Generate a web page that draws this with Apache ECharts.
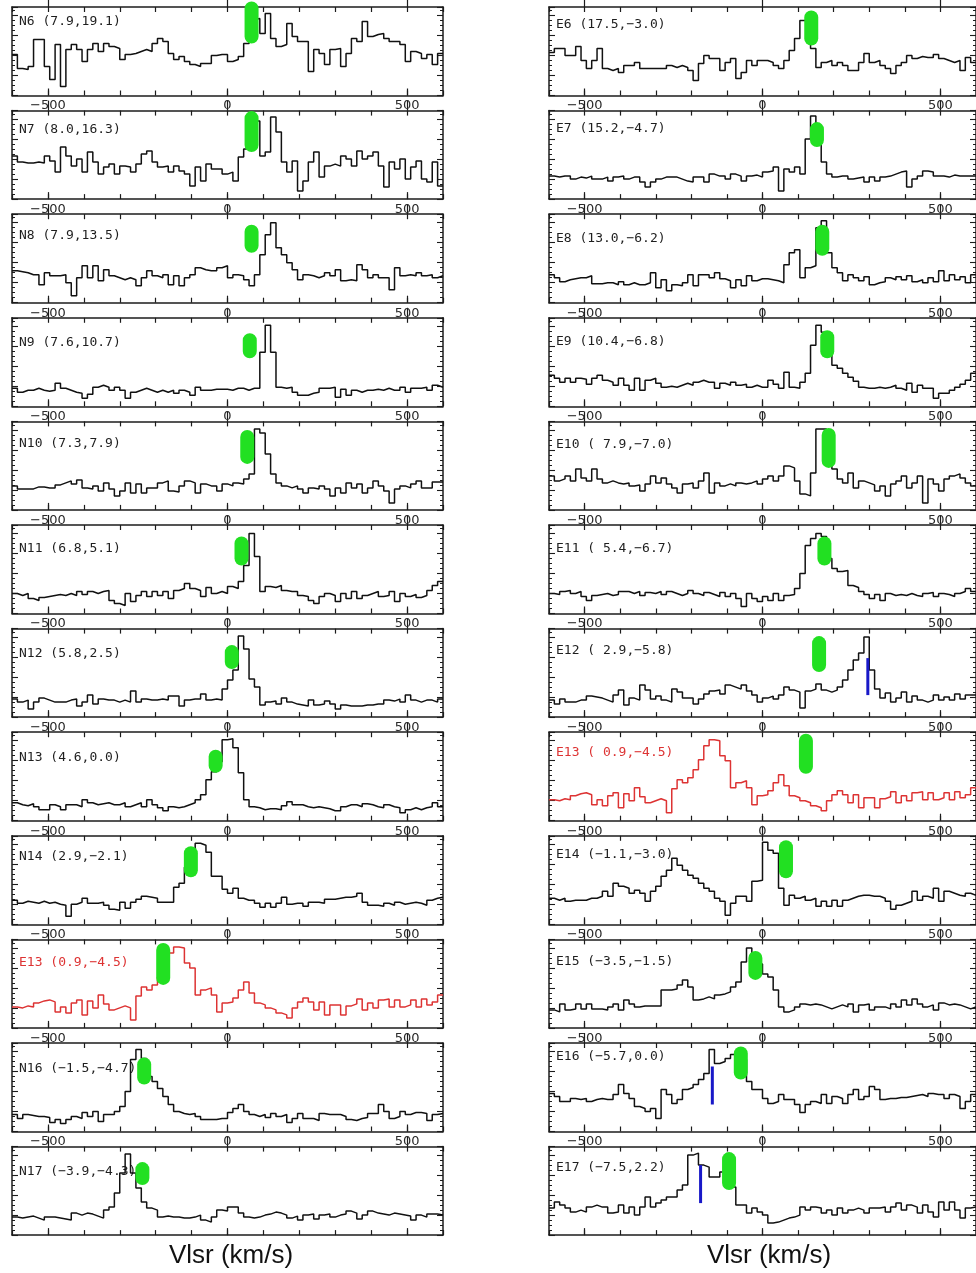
<!DOCTYPE html>
<html>
<head>
<meta charset="utf-8">
<title>CO spectra – N and E strips</title>
<script src="https://cdn.jsdelivr.net/npm/echarts@6/dist/echarts.min.js"></script>
<style>
  html, body { margin: 0; padding: 0; background: #fff; }
  #chart { width: 976px; height: 1273px; }
</style>
</head>
<body>
<div id="chart"></div>
<script>
// Velocity channels: 80 channels of 15 km/s from -600 to +600 km/s
const CHANNEL_START = -600;
const CHANNEL_WIDTH = 15;
const MAJOR_TICKS = [-500, 0, 500];

// Spectra (relative intensity, one value per channel)
const N6  = [41,27,26,29,56,56,29,16,51,9, 46,51,46,34,46,52,44,52,49,47, 36,41,42,44,46,44,52,57,54,42, 36,39,34,31,29,32,32,40,41,41, 34,36,39,52,76,77,62,82,57,49, 51,72,59,54,54,24,46,42,31,46, 47,29,42,57,54,74,59,61,62,57, 54,54,51,34,44,42,37,41,31,42];
const N7  = [43,37,36,36,37,36,43,38,27,52, 43,33,40,27,47,37,25,32,35,25, 33,32,27,35,45,48,37,32,33,27, 33,28,25,13,32,18,35,30,30,25, 27,18,42,50,60,78,43,47,82,67, 37,27,38,8,18,37,47,22,33,35, 33,43,40,33,48,40,43,47,33,12, 37,30,40,20,32,38,20,17,37,13];
const N8  = [32,31,30,28,28,18,30,27,27,28, 20,7,25,37,25,37,22,33,27,25, 23,25,23,17,25,32,27,25,28,18, 27,17,25,28,35,33,32,32,35,37, 25,28,27,23,17,28,48,68,80,55, 48,40,33,23,28,27,25,27,30,27, 33,22,23,22,38,33,25,28,25,25, 13,35,27,28,27,30,27,28,25,27];
const N9  = [18,14,16,16,18,16,15,16,23,18, 16,14,13,8,12,19,21,19,16,19, 16,8,14,16,18,16,14,16,14,16, 13,16,14,11,19,16,16,17,17,17, 16,18,18,16,18,18,54,81,54,19, 18,19,14,11,11,13,14,18,18,19, 9,17,11,16,14,16,16,17,16,18, 16,16,19,14,18,18,19,16,21,19];
const N10 = [24,21,21,21,23,23,22,22,25,27, 29,26,30,22,21,24,19,27,21,14, 19,27,17,26,17,22,22,27,29,19, 18,24,29,27,17,26,24,24,19,26, 24,27,26,31,36,81,77,56,36,27, 24,22,24,21,17,22,21,24,21,14, 22,17,27,22,26,17,22,29,24,19, 7,21,24,22,26,29,22,22,28,28];
const N11 = [20,18,20,15,13,16,17,18,19,18, 20,18,22,19,22,20,22,23,13,10, 8,20,12,18,22,17,22,18,22,15, 23,25,30,25,23,17,26,20,22,20, 27,25,32,48,80,57,22,27,26,28, 23,22,22,18,17,13,10,17,20,18, 12,20,15,22,15,18,20,22,17,18, 22,12,20,17,19,16,18,23,28,32];
const N12 = [18,15,17,8,15,19,17,15,15,15, 17,18,11,15,22,13,18,17,17,15, 17,15,26,15,18,17,17,18,17,21, 21,11,17,18,18,23,17,18,17,28, 37,47,81,68,38,30,12,15,16,13, 19,15,13,12,11,17,12,13,16,13, 8,12,11,11,11,12,12,13,13,17, 16,18,15,22,17,15,17,17,15,18];
const N13 = [18,16,15,17,14,11,11,16,14,11, 16,16,14,21,18,16,17,18,16,16, 18,14,16,18,14,21,16,13,10,14, 13,14,16,18,21,26,41,49,59,81, 82,73,48,21,14,13,11,12,12,11, 15,19,16,16,14,13,14,13,12,10, 10,14,16,16,14,17,16,14,13,16, 14,13,8,11,13,11,13,14,18,14];
const N14 = [24,21,23,22,21,23,21,22,20,19, 8,20,22,26,21,21,22,19,15,14, 22,16,22,25,28,27,26,22,22,22, 37,41,57,71,81,79,72,48,48,35, 31,36,26,24,24,21,17,21,17,21, 27,20,21,21,18,22,22,21,25,25, 26,27,27,28,31,22,19,19,18,21, 19,22,20,21,22,21,19,24,26,27];
const E13 = [21,20,22,21,25,27,28,26,16,21, 15,25,28,13,27,20,33,24,18,20, 22,20,8,32,41,38,43,51,61,75, 81,80,65,60,33,38,40,33,16,25, 26,30,38,46,35,25,23,20,18,15, 13,10,20,26,30,26,18,26,13,23, 23,13,22,24,29,18,25,20,28,29, 21,28,21,23,28,21,29,23,26,33];
const N16 = [17,13,17,16,15,15,14,9,12,8, 12,15,13,19,15,20,10,17,17,20, 25,40,72,82,73,55,50,43,35,27, 20,18,17,18,15,12,12,12,13,13, 19,23,27,20,17,15,17,14,18,15, 17,9,13,18,13,13,11,18,17,17, 17,15,12,11,13,14,18,18,27,20, 13,15,20,17,19,19,18,11,17,18];
const N17 = [18,17,18,19,17,15,18,18,17,16, 15,22,20,22,21,19,17,25,28,42, 62,81,62,47,33,27,25,18,19,18, 18,17,17,18,20,15,13,18,25,24, 28,28,22,18,17,18,20,21,23,22, 20,17,19,15,20,21,16,20,21,18, 20,21,24,22,16,20,24,22,21,20, 22,21,20,19,15,20,18,21,21,20];

const E6  = [43,47,47,40,40,49,35,27,35,47, 27,25,27,23,30,30,33,27,27,27, 27,27,30,28,30,28,25,15,32,40, 37,37,25,33,37,17,23,35,30,35, 35,33,30,27,35,45,57,75,75,47, 28,33,35,30,33,30,25,25,33,42, 33,35,30,27,22,30,33,40,37,39, 38,38,41,37,35,33,35,25,38,33];
const E7  = [23,22,23,23,20,22,21,23,20,20, 22,18,22,23,20,22,22,17,12,17, 20,22,22,22,20,18,17,22,22,17, 25,23,23,20,25,23,18,23,24,22, 27,28,32,8,30,27,32,25,60,83, 70,37,25,22,23,23,20,21,22,17, 22,18,22,23,25,27,28,12,20,23, 28,27,23,23,22,24,23,23,23,23];
const E8  = [28,25,21,23,24,25,25,27,19,19, 20,20,18,21,18,20,18,18,20,30, 15,23,12,18,17,20,28,17,28,28, 25,30,24,22,15,23,17,27,22,24, 24,23,22,20,38,50,53,25,35,37, 75,82,50,35,30,22,28,25,22,26, 18,20,21,25,23,26,23,27,21,23, 20,25,21,32,22,28,23,26,20,28];
const E9  = [31,28,24,28,24,28,27,22,28,31, 26,24,21,28,21,16,28,16,26,28, 23,19,20,19,21,23,21,24,26,24, 24,18,23,21,24,21,22,19,21,19, 19,26,22,18,34,19,18,24,33,61, 81,74,54,41,38,33,29,25,19,18, 18,19,18,19,21,18,16,23,14,21, 18,18,8,13,13,16,19,22,26,33];
const E10 = [34,29,31,34,29,41,32,29,41,31, 27,29,27,26,27,24,25,19,26,34, 27,32,26,22,17,26,27,22,29,37, 17,27,24,26,24,27,26,27,29,26, 31,34,29,34,44,42,29,16,14,37, 81,81,54,41,31,27,37,22,29,27, 25,19,24,14,26,29,34,22,27,34, 7,31,26,19,31,34,36,32,27,24];
const E11 = [20,19,22,23,20,22,17,13,18,19, 20,18,19,22,22,20,22,18,21,20, 22,19,22,20,18,20,23,20,18,21, 19,17,21,17,20,15,7,20,15,12, 17,13,20,13,18,19,25,40,68,75, 80,77,55,45,42,43,28,26,22,19, 15,19,13,20,18,19,18,20,18,17, 20,21,17,20,19,17,20,22,25,22];
const E12 = [17,13,18,15,15,17,17,21,20,19, 17,15,22,27,12,19,17,32,27,18, 21,17,15,28,25,19,19,13,18,23, 26,27,23,32,30,28,32,26,22,15, 19,21,18,22,30,27,25,9,26,28, 33,27,25,27,30,37,47,57,64,80, 47,28,19,24,15,19,25,15,21,17, 15,17,22,17,20,17,23,18,22,22];
const E14 = [26,24,26,23,24,24,24,26,26,28, 33,28,41,38,36,31,34,31,23,33, 38,48,54,66,59,54,49,46,41,36, 33,26,23,9,21,28,28,23,43,44, 82,74,71,36,19,29,26,28,24,26, 18,23,18,24,18,24,26,28,29,29, 28,28,26,23,15,19,21,23,33,24, 28,26,36,23,33,31,29,28,31,29];
const E15 = [18,16,24,18,19,24,19,24,19,19, 18,21,24,18,28,24,21,22,22,22, 22,38,38,39,43,48,41,28,29,31, 29,33,34,36,41,46,66,80,74,64, 54,51,38,21,16,18,21,24,23,24, 23,21,19,21,23,21,24,16,23,24, 18,21,21,19,24,21,28,23,29,24, 21,23,18,25,23,24,23,21,19,21];
const E16 = [38,35,30,30,33,32,33,30,32,33, 32,32,37,47,38,33,25,23,20,23, 13,42,37,28,32,42,44,47,52,58, 82,68,70,73,77,78,72,50,42,42, 33,28,30,37,32,32,27,19,27,30, 28,37,28,35,33,28,37,42,32,35, 45,42,32,33,33,34,34,35,36,37, 35,38,37,37,33,37,35,23,30,37];
const E17 = [27,33,30,27,23,25,23,28,30,28, 28,22,23,30,22,28,20,28,38,28, 32,35,38,38,45,50,80,82,70,68, 58,58,63,63,48,30,30,22,27,23, 20,12,13,15,17,18,20,28,25,28, 27,22,25,20,27,22,25,27,25,22, 27,27,28,23,28,32,25,30,28,22, 30,23,18,33,25,33,25,17,27,28];

// Panel titles (position offsets in arcsec)
const LEFT_TITLES  = ['N6 (7.9,19.1)', 'N7 (8.0,16.3)', 'N8 (7.9,13.5)', 'N9 (7.6,10.7)', 'N10 (7.3,7.9)', 'N11 (6.8,5.1)',
                      'N12 (5.8,2.5)', 'N13 (4.6,0.0)', 'N14 (2.9,\u22122.1)', 'E13 (0.9,\u22124.5)', 'N16 (\u22121.5,\u22124.7)', 'N17 (\u22123.9,\u22124.3)'];
const RIGHT_TITLES = ['E6 (17.5,\u22123.0)', 'E7 (15.2,\u22124.7)', 'E8 (13.0,\u22126.2)', 'E9 (10.4,\u22126.8)', 'E10 ( 7.9,\u22127.0)', 'E11 ( 5.4,\u22126.7)',
                      'E12 ( 2.9,\u22125.8)', 'E13 ( 0.9,\u22124.5)', 'E14 (\u22121.1,\u22123.0)', 'E15 (\u22123.5,\u22121.5)', 'E16 (\u22125.7,0.0)', 'E17 (\u22127.5,2.2)'];
const LEFT_SPECTRA  = [N6, N7, N8, N9, N10, N11, N12, N13, N14, E13, N16, N17];
const RIGHT_SPECTRA = [E6, E7, E8, E9, E10, E11, E12, E13, E14, E15, E16, E17];
const LEFT_HIGHLIGHT  = [false, false, false, false, false, false, false, false, false, true, false, false];
const RIGHT_HIGHLIGHT = [false, false, false, false, false, false, false, true, false, false, false, false];

// Green velocity markers: centre velocity (km/s) and intensity extent
const LEFT_GREEN_V   = [67, 67, 67, 62, 55, 39, 12, -33, -102, -179, -232, -237];
const LEFT_GREEN_LO  = [52, 47, 50, 48, 46, 48, 48, 48, 47, 43, 47, 50];
const LEFT_GREEN_HI  = [94, 88, 78, 73, 80, 77, 72, 71, 78, 85, 74, 73];
const RIGHT_GREEN_V  = [137, 153, 168, 182, 186, 174, 159, 122, 66, -20, -61, -94];
const RIGHT_GREEN_LO = [50, 52, 47, 48, 42, 48, 45, 47, 46, 48, 52, 45];
const RIGHT_GREEN_HI = [85, 77, 78, 76, 82, 77, 81, 87, 84, 77, 85, 83];

// Blue velocity markers (right column only)
const BLUE_ROWS = [6, 10, 11];
const BLUE_V    = [296, -141, -174];
const BLUE_LO   = [22, 27, 32];
const BLUE_HI   = [59, 65, 70];

// ---- layout ----
const ROW_TOP0 = 7, ROW_STEP = 103.6, PANEL_H = 88.5, Y_MAX = 88.5;
const COLUMNS = [{ left: 12, width: 431 }, { left: 549, width: 430 }];
const LEFT_TITLE_DY  = [15, 19, 21, 25, 22, 24, 25, 25, 21, 23, 26, 25];
const RIGHT_TITLE_DY = [18, 18, 24, 24, 23, 24, 22, 20, 19, 22, 14, 21];
const INK = '#111', AXIS_INK = '#1c1c1c', RED = '#dd3333', GREEN = '#22e022', BLUE = '#1818c8';

const fmt = v => (v < 0 ? '\u2212' + Math.abs(v) : String(v));

function histogram(values) {
  const pts = values.map((y, i) => [CHANNEL_START + i * CHANNEL_WIDTH, y]);
  pts.push([CHANNEL_START + values.length * CHANNEL_WIDTH, values[values.length - 1]]);
  return pts;
}

function renderCapsule(params, api) {
  const top = api.coord([api.value(0), api.value(2)]);
  const bot = api.coord([api.value(0), api.value(1)]);
  const w = 14;
  return { type: 'rect', shape: { x: top[0] - w / 2, y: top[1], width: w, height: bot[1] - top[1], r: w / 2 },
           style: { fill: GREEN } };
}
function renderBar(params, api) {
  const top = api.coord([api.value(0), api.value(2)]);
  const bot = api.coord([api.value(0), api.value(1)]);
  return { type: 'line', shape: { x1: top[0], y1: top[1], x2: bot[0], y2: bot[1] },
           style: { stroke: BLUE, lineWidth: 3 } };
}

const grids = [], xAxes = [], yAxes = [], series = [], graphics = [];

function addPanel(col, row, spectrum, title, red, green, blue, titleDy) {
  const g = grids.length;
  const top = ROW_TOP0 + row * ROW_STEP;
  const C = COLUMNS[col];
  grids.push({ left: C.left, top: top, width: C.width, height: PANEL_H, containLabel: false });
  const base = { gridIndex: g, type: 'value', min: -600, max: 600, interval: 100, splitLine: { show: false } };
  const line = { show: true, onZero: false, lineStyle: { color: AXIS_INK, width: 1.5 } };
  const noLine = { show: false, onZero: false };
  // bottom: every 100 km/s, labels at the major values
  xAxes.push(Object.assign({}, base, {
    position: 'bottom', axisLine: line,
    axisTick: { show: true, inside: true, length: 5, lineStyle: { color: AXIS_INK, width: 1.2 } },
    axisLabel: { show: row < 11, customValues: MAJOR_TICKS, margin: 4, formatter: fmt,
                 color: '#2a2a2a', fontFamily: 'DejaVu Sans', fontSize: 13 }
  }));
  // bottom: longer major ticks
  xAxes.push(Object.assign({}, base, {
    position: 'bottom', axisLine: noLine,
    axisTick: { show: true, inside: true, length: 7, customValues: MAJOR_TICKS, lineStyle: { color: AXIS_INK, width: 1.2 } },
    axisLabel: { show: false }
  }));
  // top: every 100 km/s
  xAxes.push(Object.assign({}, base, {
    position: 'top', axisLine: line,
    axisTick: { show: true, inside: true, length: 5, lineStyle: { color: AXIS_INK, width: 1.2 } },
    axisLabel: { show: false }
  }));
  // top: major ticks reaching outward
  xAxes.push(Object.assign({}, base, {
    position: 'top', axisLine: noLine,
    axisTick: { show: true, inside: false, length: 10, customValues: MAJOR_TICKS, lineStyle: { color: AXIS_INK, width: 1.2 } },
    axisLabel: { show: false }
  }));
  const ybase = { gridIndex: g, type: 'value', min: 0, max: Y_MAX, interval: 20, splitLine: { show: false },
                  axisLine: line, axisLabel: { show: false },
                  axisTick: { show: true, inside: true, length: 6, lineStyle: { color: AXIS_INK, width: 1.1 } },
                  minorTick: { show: true, splitNumber: 4, length: 3, lineStyle: { color: AXIS_INK, width: 1 } } };
  yAxes.push(Object.assign({}, ybase, { position: 'left' }));
  yAxes.push(Object.assign({}, ybase, { position: 'right' }));

  const xi = 4 * g, yi = 2 * g;
  series.push({ type: 'line', xAxisIndex: xi, yAxisIndex: yi, step: 'end', symbol: 'none', silent: true,
                lineStyle: { color: red ? RED : INK, width: 1.5 }, data: histogram(spectrum), z: 3 });
  series.push({ type: 'custom', xAxisIndex: xi, yAxisIndex: yi, clip: false, z: 6, silent: true,
                renderItem: renderCapsule, data: [green] });
  if (blue) {
    series.push({ type: 'custom', xAxisIndex: xi, yAxisIndex: yi, clip: false, z: 7, silent: true,
                  renderItem: renderBar, data: [blue] });
  }
  graphics.push({ type: 'text', x: C.left + 7, y: top + titleDy, z: 1, silent: true,
                  style: { text: title, fill: red ? RED : '#1e1e1e', font: '13px "DejaVu Sans Mono"',
                           align: 'left', verticalAlign: 'middle' } });
}

for (let r = 0; r < 12; r++) {
  addPanel(0, r, LEFT_SPECTRA[r], LEFT_TITLES[r], LEFT_HIGHLIGHT[r],
           [LEFT_GREEN_V[r], LEFT_GREEN_LO[r], LEFT_GREEN_HI[r]], null, LEFT_TITLE_DY[r]);
}
for (let r = 0; r < 12; r++) {
  const b = BLUE_ROWS.indexOf(r);
  addPanel(1, r, RIGHT_SPECTRA[r], RIGHT_TITLES[r], RIGHT_HIGHLIGHT[r],
           [RIGHT_GREEN_V[r], RIGHT_GREEN_LO[r], RIGHT_GREEN_HI[r]],
           b >= 0 ? [BLUE_V[b], BLUE_LO[b], BLUE_HI[b]] : null, RIGHT_TITLE_DY[r]);
}

// axis titles under each column
graphics.push({ type: 'text', x: 231, y: 1256, silent: true,
                style: { text: 'Vlsr (km/s)', fill: '#111', font: '26px "Liberation Sans"', align: 'center', verticalAlign: 'middle' } });
graphics.push({ type: 'text', x: 769, y: 1256, silent: true,
                style: { text: 'Vlsr (km/s)', fill: '#111', font: '26px "Liberation Sans"', align: 'center', verticalAlign: 'middle' } });

const chart = echarts.init(document.getElementById('chart'), null, { renderer: 'canvas' });
chart.setOption({
  backgroundColor: '#ffffff',
  animation: false,
  grid: grids,
  xAxis: xAxes,
  yAxis: yAxes,
  series: series,
  graphic: graphics
});
</script>
</body>
</html>
